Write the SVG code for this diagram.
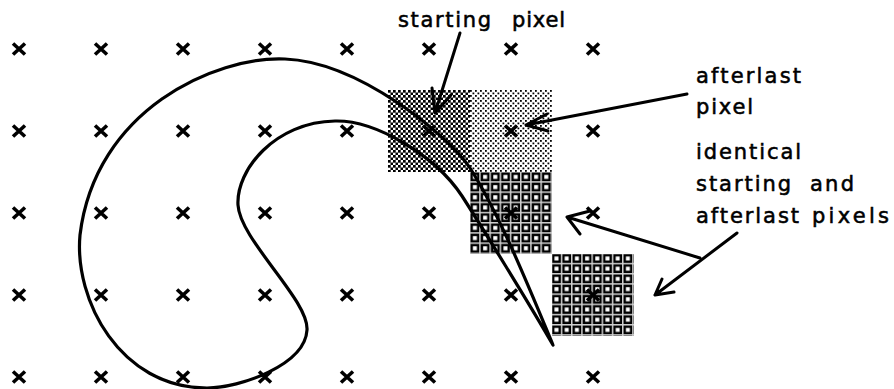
<svg xmlns="http://www.w3.org/2000/svg" width="894" height="389" viewBox="0 0 894 389">
<defs>
<style>
.lbl{font-family:"DejaVu Sans","Liberation Sans",sans-serif;font-size:21px;fill:#000;stroke:#000;stroke-width:0.55}
.xm{stroke:#000;stroke-width:3.6;fill:none}
.cv{stroke:#000;stroke-width:3.2;fill:none;stroke-linejoin:round;stroke-linecap:round}
.ar{stroke:#000;stroke-width:3;fill:none;stroke-linecap:round;stroke-linejoin:round}
</style>
<pattern id="dark" width="5" height="5" patternUnits="userSpaceOnUse" x="388" y="90">
<rect width="5" height="5" fill="#fff"/>
<rect width="2.7" height="2.7" fill="#000"/>
<rect x="2.5" y="2.5" width="2.7" height="2.7" fill="#000"/>
</pattern>
<pattern id="light" width="5" height="5" patternUnits="userSpaceOnUse" x="470" y="90">
<rect width="5" height="5" fill="#fff"/>
<rect width="1.8" height="1.8" fill="#000"/>
<rect x="2.5" y="2.5" width="1.8" height="1.8" fill="#000"/>
</pattern>
<pattern id="grid" width="10.2" height="10.2" patternUnits="userSpaceOnUse" x="469" y="171">
<rect width="10.2" height="10.2" fill="#d0d0d0"/>
<rect x="1.5" y="1.5" width="8.7" height="8.7" fill="#000"/>
<rect x="3.9" y="3.9" width="4" height="4" fill="#fff"/>
</pattern>
<path id="xmark" d="M-6,-5.5 L6,5.5 M-6,5.5 L6,-5.5"/>
</defs>
<rect width="894" height="389" fill="#fff"/>

<g id="pixels">
<rect id="starting-pixel" x="388" y="90" width="82" height="82" fill="url(#dark)"/>
<rect id="afterlast-pixel" x="470" y="90" width="82" height="82" fill="url(#light)"/>
<rect id="identical-pixel-1" x="470" y="172" width="82" height="82" fill="url(#grid)"/>
<rect id="identical-pixel-2" x="552" y="254" width="82" height="82" fill="url(#grid)"/>
</g>

<g id="grid-points" class="xm">
<use href="#xmark" x="19" y="49"/><use href="#xmark" x="101" y="49"/><use href="#xmark" x="183" y="49"/><use href="#xmark" x="265" y="49"/><use href="#xmark" x="347" y="49"/><use href="#xmark" x="429" y="49"/><use href="#xmark" x="511" y="49"/><use href="#xmark" x="593" y="49"/>
<use href="#xmark" x="19" y="131"/><use href="#xmark" x="101" y="131"/><use href="#xmark" x="183" y="131"/><use href="#xmark" x="265" y="131"/><use href="#xmark" x="347" y="131"/><use href="#xmark" x="429" y="131"/><use href="#xmark" x="511" y="131"/><use href="#xmark" x="593" y="131"/>
<use href="#xmark" x="19" y="213"/><use href="#xmark" x="101" y="213"/><use href="#xmark" x="183" y="213"/><use href="#xmark" x="265" y="213"/><use href="#xmark" x="347" y="213"/><use href="#xmark" x="429" y="213"/><use href="#xmark" x="511" y="213"/><use href="#xmark" x="593" y="213"/>
<use href="#xmark" x="19" y="295"/><use href="#xmark" x="101" y="295"/><use href="#xmark" x="183" y="295"/><use href="#xmark" x="265" y="295"/><use href="#xmark" x="347" y="295"/><use href="#xmark" x="429" y="295"/><use href="#xmark" x="511" y="295"/><use href="#xmark" x="593" y="295"/>
<use href="#xmark" x="19" y="377"/><use href="#xmark" x="101" y="377"/><use href="#xmark" x="183" y="377"/><use href="#xmark" x="265" y="377"/><use href="#xmark" x="347" y="377"/><use href="#xmark" x="429" y="377"/><use href="#xmark" x="511" y="377"/><use href="#xmark" x="593" y="377"/>
</g>

<g id="curve">
<path class="cv" d="M553,345 C530,290 500,215 470,168 C450,137 360,62 285,59 C215,56 95,110 80,235 C74,300 120,388 207,388 C240,388 305,365 307,330 C309,300 240,240 238,205 C236,170 275,122 335,121 C375,120 435,155 462,196 C480,224 530,305 553,345 Z"/>
</g>

<g id="connectors" class="ar">
<path d="M460,33 L435,113 M432,88 L435,113 L451,95"/>
<path d="M687,94 L526,125 M547,114 L526,125 L548,131"/>
<path d="M737,233 L655,295 M662,279 L655,295 L674,292"/>
<path d="M700,258 L567,217 M590,211 L567,217 L580,234"/>
</g>

<g id="label-starting">
<text class="lbl" y="27"><tspan x="398" textLength="93" lengthAdjust="spacing">starting</tspan> <tspan x="512" textLength="53" lengthAdjust="spacing">pixel</tspan></text>
</g>
<g id="label-afterlast">
<text class="lbl" x="696" y="83" textLength="105" lengthAdjust="spacing">afterlast</text>
<text class="lbl" x="696" y="114" textLength="57" lengthAdjust="spacing">pixel</text>
</g>
<g id="label-identical">
<text class="lbl" x="696" y="159" textLength="105" lengthAdjust="spacing">identical</text>
<text class="lbl" y="191"><tspan x="696" textLength="95" lengthAdjust="spacing">starting</tspan> <tspan x="810" textLength="44" lengthAdjust="spacing">and</tspan></text>
<text class="lbl" y="223"><tspan x="696" textLength="103" lengthAdjust="spacing">afterlast</tspan> <tspan x="812" textLength="77" lengthAdjust="spacing">pixels</tspan></text>
</g>
</svg>
